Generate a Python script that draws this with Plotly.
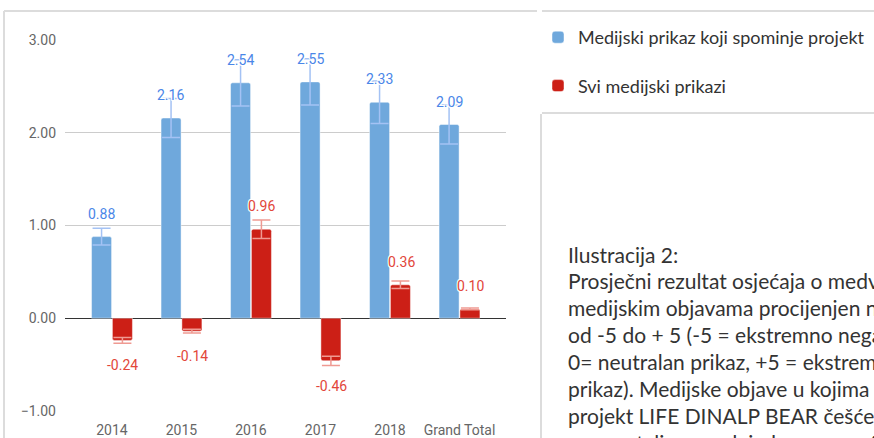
import plotly.graph_objects as go

# ---------------- data ----------------
categories = ["2014", "2015", "2016", "2017", "2018", "Grand Total"]
series_names = ["Medijski prikaz koji spominje projekt", "Svi medijski prikazi"]
project_values = [0.88, 2.16, 2.54, 2.55, 2.33, 2.09]
all_values = [-0.24, -0.14, 0.96, -0.46, 0.36, 0.10]
project_errors = [0.09, 0.21, 0.25, 0.25, 0.23, 0.21]
all_errors = [0.03, 0.02, 0.10, 0.05, 0.04, 0.01]
y_tick_values = [-1, 0, 1, 2, 3]
caption_lines = [
    "Ilustracija 2:",
    "Prosječni rezultat osjećaja o medvjedima u",
    "medijskim objavama procijenjen na skali",
    "od -5 do + 5 (-5 = ekstremno negativan prikaz,",
    "0= neutralan prikaz, +5 = ekstremno pozitivan",
    "prikaz). Medijske objave u kojima se spominje",
    "projekt LIFE DINALP BEAR češće su se pozitiv-",
    "no osvrtali na medvjede nego općenito sve",
]

# ---------------- styling ----------------
W, H = 874, 438
PL, PR, PT, PB = 65, 506, 40, 411  # plot area in pixels
BLUE, RED = "#6fa8dc", "#cc1f16"
BLUE_ERR, RED_ERR = "#a4c2f4", "#ef9a92"
BLUE_LBL, RED_LBL = "#4a86e8", "#e2463a"
XR = [-0.676, 5.669]
YR = [-1.0, 3.0]


def px_x(p):
    return (p - PL) / (PR - PL)


def px_y(p):
    return (PB - p) / (PB - PT)


fig = go.Figure()
fig.add_trace(go.Bar(
    x=categories, y=project_values, name=series_names[0],
    marker=dict(color=BLUE, line=dict(color="rgba(255,255,255,0.45)", width=1)),
    error_y=dict(type="data", array=project_errors, color=BLUE_ERR, thickness=1.5, width=9),
    legendgroup="a",
))
fig.add_trace(go.Bar(
    x=categories, y=all_values, name=series_names[1],
    marker=dict(color=RED, line=dict(color="rgba(255,255,255,0.45)", width=1)),
    error_y=dict(type="data", array=all_errors, color=RED_ERR, thickness=1.5, width=9),
    legendgroup="b",
))

annotations = []
shadow = "1px 1px 0px white, -1px -1px 0px white, 1px -1px 0px white, -1px 1px 0px white"
for i, v in enumerate(project_values):
    annotations.append(dict(
        x=i, y=v, xref="x", yref="y", text=f"{v:.2f}", showarrow=False,
        xshift=-10.5, yshift=23 if v >= 0 else -23,
        font=dict(family="Roboto", size=14, color=BLUE_LBL, shadow=shadow),
    ))
for i, v in enumerate(all_values):
    annotations.append(dict(
        x=i, y=v, xref="x", yref="y", text=f"{v:.2f}", showarrow=False,
        xshift=11, yshift=23 if v >= 0 else -25,
        font=dict(family="Roboto", size=14, color=RED_LBL, shadow=shadow),
    ))

line_y0 = 254
line_step = 26.9
for i, line in enumerate(caption_lines):
    annotations.append(dict(
        x=px_x(566), y=px_y(line_y0 + line_step * i), xref="paper", yref="paper",
        text=line, showarrow=False, xanchor="left", yanchor="middle",
        font=dict(family="Lato", size=21, color="#333333"),
    ))

border = dict(color="#dcdcdc", width=2)
shapes = [
    dict(type="line", xref="paper", yref="paper", x0=px_x(4), x1=px_x(537), y0=px_y(11), y1=px_y(11), line=border),
    dict(type="line", xref="paper", yref="paper", x0=px_x(4), x1=px_x(4), y0=px_y(11), y1=px_y(445), line=border),
    dict(type="line", xref="paper", yref="paper", x0=px_x(542), x1=px_x(880), y0=px_y(11), y1=px_y(11), line=border),
    dict(type="line", xref="paper", yref="paper", x0=px_x(542), x1=px_x(880), y0=px_y(113), y1=px_y(113), line=border),
    dict(type="line", xref="paper", yref="paper", x0=px_x(541), x1=px_x(541), y0=px_y(114), y1=px_y(445), line=border),
]

fig.update_layout(
    width=W, height=H,
    margin=dict(l=PL, r=W - PR, t=PT, b=H - PB, pad=0),
    paper_bgcolor="white", plot_bgcolor="white",
    barmode="group", bargap=0.4, bargroupgap=0.04, barcornerradius=2,
    font=dict(family="Roboto", size=14, color="#666666"),
    xaxis=dict(range=XR, showgrid=False, showline=False, ticks="", zeroline=False, automargin=False,
               tickfont=dict(family="Roboto", size=14, color="#666666"), ticklabelstandoff=9),
    yaxis=dict(range=[YR[0] - 0.002, YR[1] + 0.002], tickvals=y_tick_values, tickformat=".2f",
               showgrid=True, gridcolor="#cccccc", gridwidth=1, automargin=False,
               zeroline=True, zerolinecolor="#333333", zerolinewidth=1.4,
               showline=False, ticks="", ticklabelstandoff=8,
               tickfont=dict(family="Roboto", size=14, color="#666666")),
    showlegend=True,
    legend=dict(xref="container", yref="container", x=538 / W, y=1 - 19 / H,
                xanchor="left", yanchor="top", tracegroupgap=22,
                font=dict(family="Lato", size=18, color="#333333"),
                bgcolor="rgba(0,0,0,0)"),
    annotations=annotations,
    shapes=shapes,
)

fig.write_html("out.html", config={"displayModeBar": False},
               post_script="document.body.style.margin='0';document.body.style.overflow='hidden';")
